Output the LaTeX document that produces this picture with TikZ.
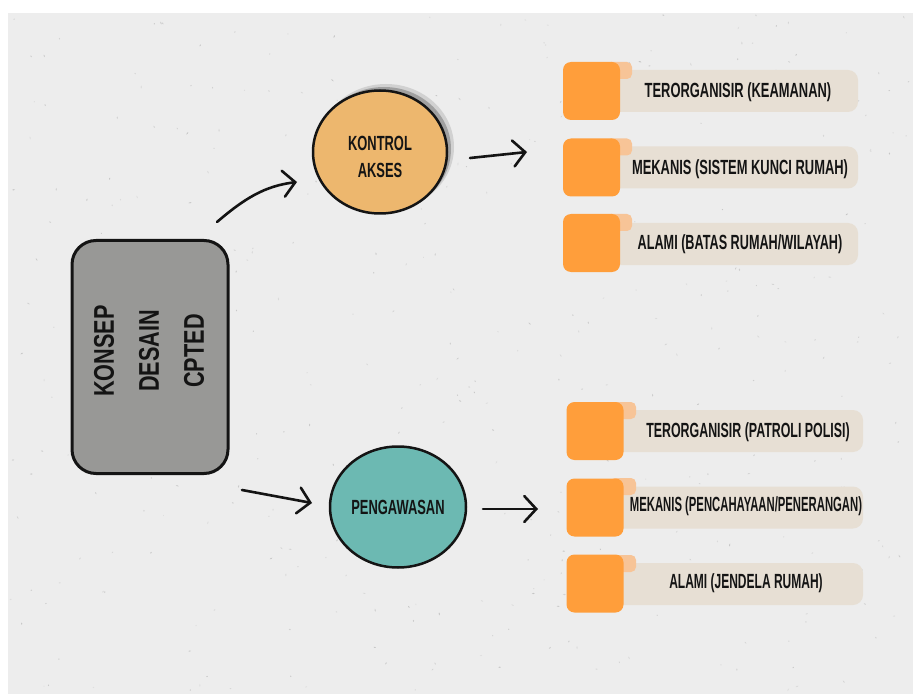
\documentclass[tikz,border=0pt]{standalone}
\usepackage{fontspec}
\newfontfamily\hand[FakeStretch=0.63]{Liberation Sans}
\newfontfamily\handw[FakeStretch=0.76]{Liberation Sans}
\usetikzlibrary{arrows.meta,calc,shapes.geometric}
\definecolor{bg}{HTML}{EDEDED}
\definecolor{speck}{HTML}{B9B9B9}
\definecolor{boxgray}{HTML}{989896}
\definecolor{kontrolc}{HTML}{EDB76E}
\definecolor{tealc}{HTML}{6CB9B2}
\definecolor{orangeq}{HTML}{FF9E3B}
\definecolor{beige}{HTML}{E7DFD4}
\definecolor{peach}{HTML}{F7C497}
\definecolor{ink}{HTML}{141414}
\begin{document}
\begin{tikzpicture}[x=1pt,y=-1pt,
  arr/.style={line width=2.6pt, line cap=round, draw=ink,
    -{Straight Barb[length=12pt,width=26pt,line cap=round]}},
  circ/.style={ellipse, draw=ink, line width=2.5pt, inner sep=0pt},
  sqbox/.style={fill=orangeq, rounded corners=8pt, minimum width=57pt, minimum height=58pt, inner sep=0pt},
  barbox/.style={fill=beige, rounded corners=10pt, minimum height=42pt, inner sep=0pt},
  tabbox/.style={fill=peach, rounded corners=5pt, minimum width=26pt, minimum height=17pt, inner sep=0pt},
  itemtxt/.style={font=\hand\bfseries\fontsize{20.5}{24}\selectfont, text=ink, inner sep=0pt},
  circtxt/.style={font=\hand\bfseries\fontsize{20.5}{27}\selectfont, text=ink, align=center, inner sep=0pt}
]
\useasboundingbox (0,0) rectangle (913,695);
\fill[white] (0,0) rectangle (913,695);
\fill[bg] (8,13) rectangle (913,694);
% speckles
\pgfmathsetseed{1234}
\foreach \i in {1,...,420}{
  \pgfmathsetmacro\xx{10+900*rnd}
  \pgfmathsetmacro\yy{15+676*rnd}
  \pgfmathsetmacro\aa{180*rnd}
  \pgfmathsetmacro\op{0.25+0.55*rnd}
  \pgfmathsetmacro\rr{0.6+1.0*rnd}
  \fill[speck, opacity=\op, rotate around={\aa:(\xx,\yy)}] (\xx,\yy) ellipse ({\rr} and 0.6);
}
% main box
\node[draw=ink, line width=3pt, fill=boxgray, rounded corners=24pt,
      minimum width=156pt, minimum height=233pt] (konsep) at (150,357) {};
\node[rotate=90, font=\handw\bfseries\fontsize{28.5}{45}\selectfont, text=ink,
      align=center, inner sep=0pt] (konsepT) at (149,351) {KONSEP\\DESAIN\\CPTED};
% Kontrol akses circle with shadow
\fill[gray, opacity=0.25] (386,147) ellipse (68 and 63);
\fill[gray!80!black, opacity=0.45] (384,149) ellipse (67 and 62);
\node[circ, fill=kontrolc, minimum width=134pt, minimum height=123pt] (kontrol) at (380,152) {};
\node[circtxt] (kontrolT) at (380,157) {KONTROL\\AKSES};
% Pengawasan circle
\node[circ, fill=tealc, minimum width=136pt, minimum height=121pt] (awas) at (398,507) {};
\node[circtxt] (awasT) at (398,507) {PENGAWASAN};
% arrows
\coordinate (a1s) at (217,222);
\coordinate (a1e) at (297,182);
\coordinate (a2s) at (470,158);
\coordinate (a2e) at (527,152);
\coordinate (a3s) at (242,490);
\coordinate (a3e) at (312,503);
\coordinate (a4s) at (483,509);
\coordinate (a4e) at (538,509);
\draw[arr] (a1s) .. controls (245,198) and (265,186) .. (a1e);
\draw[arr] (a2s) -- (a2e);
\draw[arr] (a3s) -- (a3e);
\draw[arr] (a4s) -- (a4e);
% top items
\node[barbox, minimum width=258pt] (bar1) at (729,91) {};
\node[tabbox] (tab1) at (619,70.5) {};
\node[sqbox] (sq1) at (591.5,91) {};
\node[itemtxt] (t1) at (738,92) {TERORGANISIR (KEAMANAN)};
\node[barbox, minimum width=258pt] (bar2) at (729,167.5) {};
\node[tabbox] (tab2) at (619,147) {};
\node[sqbox] (sq2) at (591.5,167.5) {};
\node[itemtxt] (t2) at (740,169) {MEKANIS (SISTEM KUNCI RUMAH)};
\node[barbox, minimum width=258pt] (bar3) at (729,244) {};
\node[tabbox] (tab3) at (619,222.5) {};
\node[sqbox] (sq3) at (591.5,243) {};
\node[itemtxt] (t3) at (740,244) {\scalebox{0.98}[1]{ALAMI (BATAS RUMAH/WILAYAH)}};
% bottom items
\node[barbox, minimum width=258pt] (bar4) at (734,431) {};
\node[tabbox] (tab4) at (623,410.5) {};
\node[sqbox] (sq4) at (595,431) {};
\node[itemtxt] (t4) at (748,432) {\scalebox{0.96}[1]{TERORGANISIR (PATROLI POLISI)}};
\node[barbox, minimum width=258pt] (bar5) at (734,507.5) {};
\node[tabbox] (tab5) at (623,486.5) {};
\node[sqbox] (sq5) at (595,507.5) {};
\node[itemtxt] (t5) at (746,506) {\scalebox{0.875}[1]{MEKANIS (PENCAHAYAAN/PENERANGAN)}};
\node[barbox, minimum width=258pt] (bar6) at (734,584) {};
\node[tabbox] (tab6) at (623,563.5) {};
\node[sqbox] (sq6) at (595,583.5) {};
\node[itemtxt] (t6) at (746,583) {\scalebox{0.93}[1]{ALAMI (JENDELA RUMAH)}};
\end{tikzpicture}
\end{document}
